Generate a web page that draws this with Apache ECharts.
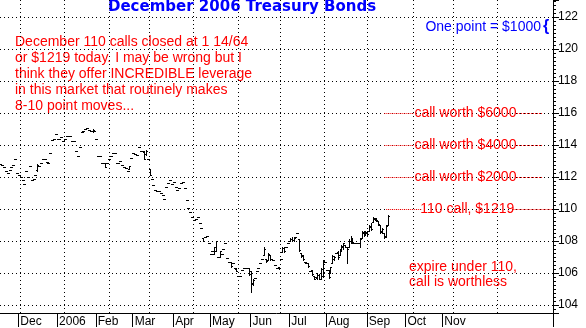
<!DOCTYPE html>
<html><head><meta charset="utf-8">
<script src="https://cdn.jsdelivr.net/npm/echarts@6/dist/echarts.min.js"></script>
<style>html,body{margin:0;padding:0;background:#fff}#c{width:586px;height:328px}</style>
</head><body><div id="c"></div>
<script>
// ---- data (one entry per trading day, December 2006 T-Bond futures) ----
const opens=[
112.8,112.75,112.6,112.4,112.25,112.45,112.6,112.75,113.15,112.25,
112.15,112.0,111.8,111.55,112.35,112.0,112.7,111.8,111.85,112.1,
112.45,112.7,112.9,113.1,113.15,112.95,112.85,113.5,114.3,114.4,
114.7,114.4,114.4,114.5,114.25,114.4,114.55,114.55,114.55,114.25,
114.25,113.6,113.3,113.9,114.8,114.9,115.0,115.05,114.95,114.9,
114.85,114.9,114.4,113.3,113.3,112.85,112.85,112.9,112.85,113.1,
113.3,113.5,113.5,112.85,112.9,113.0,112.75,112.65,112.55,112.35,
112.5,113.2,113.5,113.45,113.4,113.9,113.6,113.6,113.55,113.45,
113.1,112.5,111.85,111.5,111.2,111.15,111.1,111.0,110.9,110.65,
111.4,111.6,111.8,111.55,111.7,111.4,111.2,111.3,111.65,111.7,
111.3,110.55,110.05,109.8,109.5,109.3,109.4,109.5,109.1,108.8,
108.2,108.25,108.3,107.9,107.2,107.4,107.2,107.4,107.0,107.0,
107.2,107.5,107.9,106.95,106.7,106.7,106.6,106.3,106.25,105.8,
105.8,106.2,106.3,106.3,106.3,106.3,106.1,105.3,105.7,106.1,
106.3,106.6,106.9,107.1,106.9,106.8,107.1,106.9,106.8,106.5,
106.3,106.4,106.9,107.3,107.55,107.6,107.9,108.0,108.1,108.05,
108.25,108.5,108.1,107.25,107.1,106.7,106.6,106.6,106.1,106.2,
105.8,105.75,105.7,105.9,105.65,105.8,106.7,106.2,106.2,106.0,
106.6,106.9,107.25,107.3,107.1,107.45,107.6,107.75,107.6,107.6,
108.0,108.2,107.9,107.9,107.9,107.9,108.2,108.5,108.4,108.5,
108.6,108.9,109.2,109.4,109.3,109.25,109.0,108.6,108.5,108.3,
109.0];
const highs=[
112.8,112.75,112.6,112.4,112.25,112.45,112.6,112.75,113.15,112.25,
112.15,112.0,111.8,111.55,112.35,112.0,112.7,111.8,111.85,112.1,
112.8,112.7,112.9,113.1,113.15,112.95,112.85,113.5,114.3,114.4,
114.7,114.4,114.4,114.5,114.25,114.4,114.55,114.55,114.55,114.25,
114.25,113.6,113.3,113.9,114.8,114.9,115.0,115.05,114.95,114.9,
115.0,114.9,114.4,113.3,113.3,112.85,112.85,112.9,112.85,113.1,
113.3,113.5,113.5,112.85,112.9,113.0,112.75,112.65,112.55,112.35,
112.7,113.2,113.5,113.45,113.4,113.9,113.6,113.6,113.6,113.7,
113.1,112.5,111.85,111.5,111.2,111.15,111.1,111.0,110.9,110.65,
111.4,111.6,111.8,111.55,111.7,111.4,111.2,111.3,111.65,111.7,
111.3,110.55,110.05,109.8,109.5,109.3,109.4,109.5,109.1,108.8,
108.2,108.25,108.3,107.9,107.2,107.4,107.6,108.0,107.0,107.4,
107.2,107.5,107.9,106.95,106.7,106.7,106.6,106.3,106.25,105.8,
105.8,106.2,106.3,106.3,106.3,106.3,106.1,105.6,105.7,106.1,
106.3,106.6,106.9,107.6,106.9,107.25,107.1,106.9,106.8,106.5,
106.3,106.4,106.9,107.6,107.6,107.6,107.9,108.2,108.25,108.2,
108.25,108.5,108.1,107.25,107.1,106.7,106.6,106.6,106.1,106.2,
105.8,105.75,106.0,105.95,106.3,106.8,106.7,106.2,106.2,106.4,
107.1,107.05,107.25,107.4,107.5,107.75,107.9,107.75,107.6,108.1,
108.3,108.2,107.9,107.9,107.9,108.2,108.6,108.6,108.6,108.6,
109.0,109.1,109.5,109.45,109.45,109.25,109.0,108.8,108.5,109.0,
109.6];
const lows=[
112.8,112.75,112.6,112.4,112.25,112.45,112.6,112.75,113.15,112.25,
112.15,112.0,111.8,111.55,112.35,112.0,112.7,111.8,111.85,112.1,
112.4,112.7,112.9,113.1,113.15,112.95,112.85,113.5,114.3,114.4,
114.7,114.4,114.4,114.5,114.25,114.4,114.55,114.55,114.55,114.25,
114.25,113.6,113.3,113.9,114.8,114.9,115.0,115.05,114.95,114.9,
114.8,114.9,114.4,113.3,113.3,112.85,112.85,112.6,112.85,113.1,
113.3,113.5,113.5,112.85,112.9,113.0,112.75,112.65,112.55,112.35,
112.5,113.2,113.5,113.45,113.4,113.9,113.6,113.6,113.1,113.4,
113.1,112.1,111.85,111.5,111.2,111.15,111.1,111.0,110.9,110.65,
111.4,111.6,111.8,111.55,111.7,111.4,111.2,111.3,111.65,111.7,
111.3,110.55,110.05,109.8,109.5,109.3,109.4,109.5,109.1,108.8,
108.0,108.25,108.3,107.9,107.2,107.4,107.2,107.4,107.0,107.0,
107.2,107.5,107.9,106.95,106.7,106.4,106.6,106.3,106.1,105.8,
105.8,106.2,106.3,106.3,106.3,105.9,104.8,105.25,105.7,106.1,
106.3,106.6,106.9,107.1,106.7,106.8,106.8,106.9,106.8,106.5,
106.3,106.25,106.9,107.3,107.3,107.6,107.9,108.0,108.0,108.0,
108.25,108.5,107.4,107.0,106.8,106.7,106.6,106.4,106.1,105.9,
105.6,105.75,105.6,105.6,105.6,105.75,106.7,106.2,105.7,106.0,
106.6,106.8,107.25,106.9,107.1,107.4,107.5,107.6,106.6,107.6,
107.9,107.9,107.9,107.9,107.9,107.6,108.2,108.3,108.4,108.4,
108.6,108.7,109.2,109.3,109.25,109.0,108.5,108.5,108.2,108.25,
109.0];
const closes=[
112.8,112.75,112.6,112.4,112.25,112.45,112.6,112.75,113.15,112.25,
112.15,112.0,111.8,111.55,112.35,112.0,112.7,111.8,111.85,112.1,
112.75,112.7,112.9,113.1,113.15,112.95,112.85,113.5,114.3,114.4,
114.7,114.4,114.4,114.5,114.25,114.4,114.55,114.55,114.55,114.25,
114.25,113.6,113.3,113.9,114.8,114.9,115.0,115.05,114.95,114.9,
114.95,114.9,114.4,113.3,113.3,112.85,112.85,112.65,112.85,113.1,
113.3,113.5,113.5,112.85,112.9,113.0,112.75,112.65,112.55,112.35,
112.7,113.2,113.5,113.45,113.4,113.9,113.6,113.6,113.15,113.65,
113.1,112.15,111.85,111.5,111.2,111.15,111.1,111.0,110.9,110.65,
111.4,111.6,111.8,111.55,111.7,111.4,111.2,111.3,111.65,111.7,
111.3,110.55,110.05,109.8,109.5,109.3,109.4,109.5,109.1,108.8,
108.0,108.25,108.3,107.9,107.2,107.4,107.6,108.0,107.0,107.4,
107.2,107.5,107.9,106.95,106.7,106.45,106.6,106.3,106.1,105.8,
105.8,106.2,106.3,106.3,106.3,105.95,105.4,105.55,105.7,106.1,
106.3,106.6,106.9,107.5,106.75,107.2,106.85,106.9,106.8,106.5,
106.3,106.3,106.9,107.55,107.35,107.6,107.9,108.15,108.05,108.2,
108.25,108.5,107.45,107.05,106.85,106.7,106.6,106.45,106.1,105.95,
105.65,105.75,105.9,105.65,106.25,106.75,106.7,106.2,105.75,106.35,
107.05,107.0,107.25,107.0,107.45,107.7,107.85,107.65,107.5,108.0,
108.2,107.95,107.9,107.9,107.9,108.15,108.55,108.35,108.55,108.45,
108.95,108.75,109.45,109.35,109.3,109.05,108.55,108.75,108.25,108.95,
109.55];

// x axis: trading-day slots, month labels at first trading day of each month
const dayCount = 300;
const monthLabels   = ['Dec','2006','Feb','Mar','Apr','May','Jun','Jul','Aug','Sep','Oct','Nov'];
const monthStartIdx = [10, 31, 52, 72, 94, 114, 136, 157, 177, 199, 220, 240];

// call value reference levels
const callLevels = [116, 114, 112, 110];
const callLabels = ['call worth $6000', 'call worth $4000', 'call worth $2000', '110 call, $1219'];

const noteLines = ['December 110 calls closed at 1 14/64',
  'or $1219 today. I may be wrong but I',
  'think they offer INCREDIBLE leverage',
  'in this market that routinely makes',
  '8-10 point moves...'];

// ---- layout helpers (not data) ----
const gridLineIdx = [11, 35, 59, 81, 105, 129, 152, 176, 199, 224, 246, 270];
const segLeft  = [[208,224],[208,224],[208,224],[209,228]];
const segRight = [[280,294],[280,294],[280,294],[278,299]];
const labelIdx = [252, 252, 252, 253];

const days = Array.from({length: dayCount}, (_, i) => String(i));
const monthMap = {}; monthStartIdx.forEach((d, k) => monthMap[d] = monthLabels[k]);
const gridSet = new Set(gridLineIdx);
const bars = opens.map((o, i) => [i, o, highs[i], lows[i], closes[i]]);

const FONT = '"Liberation Sans", Arial, sans-serif';
const chart = echarts.init(document.getElementById('c'), null, {renderer: 'canvas'});

const markLineData = [];
callLevels.forEach((lv, k) => {
  markLineData.push([{coord: [segLeft[k][0], lv]}, {coord: [segLeft[k][1], lv]}]);
  markLineData.push([{coord: [segRight[k][0], lv]}, {coord: [segRight[k][1], lv]}]);
});
const markPointData = callLevels.map((lv, k) => ({coord: [labelIdx[k], lv], name: callLabels[k]}));

chart.setOption({
  animation: false,
  backgroundColor: '#fff',
  grid: {left: 0, right: 33, top: 0, bottom: 15, containLabel: false},
  xAxis: {
    type: 'category', data: days, boundaryGap: true,
    axisLine: {show: true, lineStyle: {color: '#000', width: 1}},
    axisTick: {show: true, length: 14, interval: (i) => monthMap[i] !== undefined, lineStyle: {color: '#000'}},
    axisLabel: {interval: (i) => monthMap[i] !== undefined, formatter: (v, i) => monthMap[i] || '',
      align: 'left', margin: 3, padding: [0, 0, 0, 1], color: '#000', fontSize: 12, fontFamily: FONT},
    splitLine: {show: true, interval: (i) => gridSet.has(i), lineStyle: {color: '#000', width: 1, type: [1, 3]}}
  },
  yAxis: [{
    type: 'value', position: 'right', min: 103.5, max: 123.0625, interval: 0.25,
    axisLine: {show: true, lineStyle: {color: '#000'}},
    axisTick: {show: true, length: 3, lineStyle: {color: '#000'}},
    axisLabel: {show: false},
    splitLine: {show: false}
  }, {
    type: 'value', position: 'right', min: 103.5, max: 123.0625, minInterval: 2, maxInterval: 2, splitNumber: 10,
    axisLine: {show: false},
    axisTick: {show: true, length: 6, lineStyle: {color: '#000'}},
    axisLabel: {show: true, margin: 5, color: '#000', fontSize: 12, fontFamily: FONT,
      formatter: (v) => (Math.abs(v - Math.round(v)) < 1e-6 && Math.round(v) % 2 === 0) ? String(Math.round(v)) : ''},
    splitLine: {show: true, showMinLine: false, showMaxLine: false, lineStyle: {color: '#000', width: 1, type: [1, 3]}}
  }],
  series: [{
    type: 'custom',
    xAxisIndex: 0, yAxisIndex: 0,
    data: bars,
    encode: {x: 0, y: [1, 2, 3, 4]},
    renderItem: function (params, api) {
      const i = api.value(0);
      const ph = api.coord([i, api.value(2)]);
      const pl = api.coord([i, api.value(3)]);
      const po = api.coord([i, api.value(1)]);
      const pc = api.coord([i, api.value(4)]);
      const x = Math.floor(ph[0]);
      const yh = Math.round(ph[1]), yl = Math.round(pl[1]);
      const st = {fill: '#000'};
      return {type: 'group', children: [
        {type: 'rect', shape: {x: x, y: yh, width: 1, height: Math.max(1, yl - yh + 1)}, style: st},
        {type: 'rect', shape: {x: x - 1, y: Math.round(po[1]), width: 1, height: 1}, style: st},
        {type: 'rect', shape: {x: x + 1, y: Math.round(pc[1]), width: 1, height: 1}, style: st}
      ]};
    },
    markLine: {
      silent: true, symbol: 'none', label: {show: false},
      lineStyle: {color: '#ff0000', width: 1, type: [1, 1]},
      data: markLineData
    },
    markPoint: {
      silent: true, symbol: 'rect', symbolSize: 1, itemStyle: {color: 'rgba(0,0,0,0)'},
      label: {show: true, position: 'inside', formatter: '{b}', color: '#ff0000', fontSize: 14, fontFamily: FONT},
      data: markPointData
    }
  }],
  graphic: [
    {type: 'text', left: 108, top: 0, style: {text: 'December 2006 Treasury Bonds', font: 'bold 15px "DejaVu Sans", sans-serif', fill: '#0000ff'}},
    {type: 'text', left: 15, top: 34, style: {text: noteLines.join('\n'), font: '14px ' + FONT, lineHeight: 16, fill: '#ff0000'}},
    {type: 'text', x: 541, y: 27, style: {text: 'One point = $1000', font: '14px ' + FONT, fill: '#0000ff', align: 'right', verticalAlign: 'middle', textAlign: 'right', textVerticalAlign: 'middle'}},
    {type: 'text', x: 543, y: 27, style: {text: '{', font: 'bold 16px ' + FONT, fill: '#0000ff', align: 'left', verticalAlign: 'middle', textAlign: 'left', textVerticalAlign: 'middle'}},
    {type: 'text', left: 409, top: 260, style: {text: 'expire under 110,\ncall is worthless', font: '14px ' + FONT, lineHeight: 15, fill: '#ff0000'}}
  ]
});
</script>
</body></html>
